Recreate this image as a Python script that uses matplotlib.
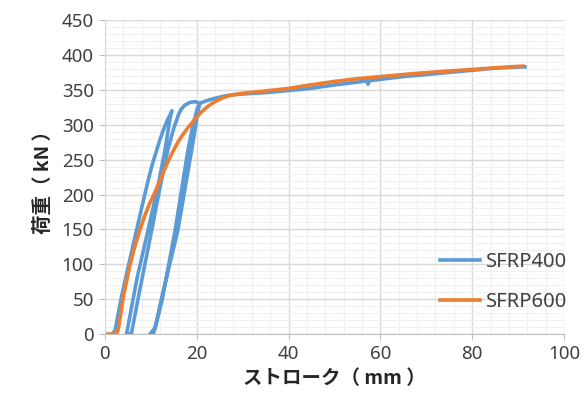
import numpy as np
import matplotlib.pyplot as plt
from matplotlib.ticker import MultipleLocator

plt.rcParams['font.family'] = ['Noto Sans', 'Noto Sans CJK JP', 'DejaVu Sans']

# SFRP400: cyclic load (two unload/reload loops) then monotonic
stroke_400 = [1.5, 2.2, 3.6, 5.2, 6.9, 8.4, 9.6, 10.4, 11.3, 12.0, 12.6, 13.2,
              13.7, 14.2, 14.6,
              14.2, 13.1, 11.5, 9.4, 7.0, 5.0, 4.7, 5.3,
              5.8, 7.5, 10.2, 12.0, 13.7, 15.0, 15.6, 16.0, 16.6, 17.4, 18.5,
              19.6, 20.7,
              20.2, 19.2, 18.1, 15.3, 12.5, 11.0, 9.8, 10.5,
              10.8, 12.3, 15.9, 18.9, 19.8, 20.3, 20.7,
              22, 24, 26, 28, 30, 35, 40, 44.7, 46.8, 50, 55, 57, 57.3, 57.6,
              60, 65, 68.6, 75, 80, 85, 91.5]
load_400 = [0, 5, 53, 100, 149, 192, 225, 245, 264, 279, 290, 300,
            308, 314, 320,
            310, 264, 210, 149, 80, 10, 0, 0,
            2, 60, 149, 210, 264, 295, 306, 314, 322, 328, 332,
            333, 331,
            325, 300, 264, 149, 50, 10, 0, 0,
            5, 50, 149, 264, 300, 320, 331,
            334, 338, 341, 343, 344, 346, 349, 352, 354, 357, 361, 363, 358,
            363, 365, 369, 371, 375, 378, 381, 383]

# SFRP600: monotonic
stroke_600 = [0, 2.6, 3.0, 4.0, 5.5, 6.5, 7.6, 8.7, 9.8, 10.9, 12.0, 13.0,
              14.0, 15.0, 16.0, 17.0, 18.0, 19.0, 20.0, 21.0, 22.0, 23.0,
              24.0, 25.5, 27.2, 30, 33, 40, 44.7, 50, 55, 60, 68.6, 75, 81.7,
              86, 91]
load_600 = [0, 0, 10, 53, 100, 125, 149, 170, 188, 203, 220, 236,
            251, 264, 276, 286, 295, 303, 311, 318, 324, 329,
            333, 338, 342, 345, 347, 352, 357, 362, 366, 369, 374, 377, 380,
            382, 384]

fig = plt.figure(figsize=(5.86, 4.13), dpi=100)
ax = fig.add_axes([0.179, 0.191, 0.7835, 0.7605])

ax.plot(stroke_400, load_400, color='#5B9BD5', lw=2.6, label='SFRP400',
        solid_joinstyle='round')
ax.plot(stroke_600, load_600, color='#ED7D31', lw=2.6, label='SFRP600',
        solid_joinstyle='round')

ax.set_xlim(0, 100)
ax.set_ylim(0, 450)
ax.xaxis.set_major_locator(MultipleLocator(20))
ax.xaxis.set_minor_locator(MultipleLocator(4))
ax.yaxis.set_major_locator(MultipleLocator(50))
ax.yaxis.set_minor_locator(MultipleLocator(10))
ax.grid(True, which='major', color='#D9D9D9', lw=1.0)
ax.grid(True, which='minor', color='#F0F0F0', lw=0.8)
ax.set_axisbelow(True)

for s in ['top', 'right']:
    ax.spines[s].set_visible(False)
ax.spines['left'].set_color('#D9D9D9')
ax.spines['bottom'].set_color('#BFBFBF')
ax.tick_params(which='major', length=4, color='#BFBFBF', labelsize=13.5,
               labelcolor='#404040', pad=4)
ax.tick_params(which='minor', length=0)

ax.set_xlabel('ストローク（ mm ）', fontsize=14, fontweight='bold',
              color='#262626', family=['Noto Sans CJK JP'], labelpad=4)
ax.set_ylabel('荷重（ kN ）', fontsize=14, fontweight='bold',
              color='#262626', family=['Noto Sans CJK JP'], labelpad=6)

ax.legend(loc='center left', bbox_to_anchor=(0.73, 0.166), frameon=False,
          fontsize=14.5, handlelength=2.0, handletextpad=0.3,
          labelspacing=1.0, borderpad=0, borderaxespad=0,
          labelcolor='#404040')

fig.savefig('out.png', dpi=100)
